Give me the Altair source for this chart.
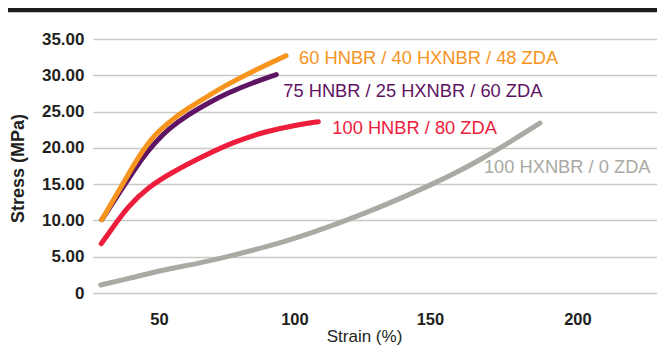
import altair as alt
import pandas as pd

# Series data: strain (%) and stress (MPa)
orange_name = "60 HNBR / 40 HXNBR / 48 ZDA"
orange_strain = [28.9, 33.8, 38.7, 43.6, 47.9, 53.4, 60.8, 68.8, 75.0, 84.8, 96.9]
orange_stress = [10.1, 13.2, 16.4, 19.4, 21.6, 23.5, 25.5, 27.3, 28.7, 30.6, 32.7]

purple_name = "75 HNBR / 25 HXNBR / 60 ZDA"
purple_strain = [28.9, 33.8, 38.7, 43.6, 48.5, 53.4, 60.8, 68.8, 75.0, 84.8, 93.3]
purple_stress = [10.1, 12.9, 15.7, 18.5, 20.7, 22.6, 24.6, 26.3, 27.5, 29.0, 30.1]

red_name = "100 HNBR / 80 ZDA"
red_strain = [28.7, 32.5, 38.7, 46.1, 54.7, 66.0, 77.4, 89.7, 100.0, 108.8]
red_stress = [6.8, 8.8, 12.0, 14.6, 16.6, 18.8, 20.8, 22.3, 23.1, 23.6]

gray_name = "100 HXNBR / 0 ZDA"
gray_strain = [28.5, 40.0, 50.4, 65.0, 77.4, 90.0, 102.0, 120.5, 131.5, 150.0, 168.5, 190.6]
gray_stress = [1.1, 2.1, 3.1, 4.1, 5.2, 6.4, 7.7, 10.2, 11.8, 14.8, 18.2, 23.4]

x_ticks = [50, 100, 150, 200]
y_ticks = [0, 5, 10, 15, 20, 25, 30, 35]

rows = []
for name, xs, ys in [(orange_name, orange_strain, orange_stress),
                     (purple_name, purple_strain, purple_stress),
                     (red_name, red_strain, red_stress),
                     (gray_name, gray_strain, gray_stress)]:
    for i, (s, v) in enumerate(zip(xs, ys)):
        rows.append({"series": name, "strain": s, "stress": v, "last": i == len(xs) - 1})
df = pd.DataFrame(rows)

FONT = "Liberation Sans"
INK = "#231f20"

x_enc = alt.X("strain:Q",
              scale=alt.Scale(domain=[25.65, 233.8], nice=False, zero=False),
              axis=alt.Axis(values=x_ticks, title="Strain (%)", grid=False, domain=False,
                            ticks=False, tickSize=0, labelPadding=18, labelOverlap=False,
                            labelFont=FONT, labelFontSize=16.5, labelFontWeight="bold",
                            labelColor=INK,
                            labelOffset={"condition": {"test": "datum.value == 200", "value": 12}, "value": 0},
                            titleFont=FONT, titleFontSize=17, titleFontWeight="normal",
                            titleColor=INK, titleX=271, titleY=43, titleAlign="center",
                            titleBaseline="middle"))
y_enc = alt.Y("stress:Q",
              scale=alt.Scale(domain=[0, 35], nice=False),
              axis=alt.Axis(values=y_ticks, title="Stress (MPa)", grid=True,
                            gridColor="#c8c8c4", gridWidth=1.5, domain=False,
                            ticks=False, tickSize=0, labelPadding=9, labelOverlap=False,
                            labelExpr="datum.value == 0 ? '0' : format(datum.value, '.2f')",
                            labelFont=FONT, labelFontSize=17, labelFontWeight="bold",
                            labelColor=INK,
                            titleFont=FONT, titleFontSize=18, titleFontWeight="bold",
                            titleColor=INK, titleX=-75, titleY=129, titleAlign="center",
                            titleBaseline="middle", titleAngle=-90))

base = alt.Chart(df)

series_style = [
    (gray_name, "#a9aaa3", -56, 45),
    (red_name, "#ee1d3c", 14, 7),
    (purple_name, "#5e1463", 7, 17),
    (orange_name, "#f7941e", 13, 3),
]

layers = []
for name, color, dx, dy in series_style:
    layers.append(
        base.transform_filter(alt.datum.series == name)
        .mark_line(color=color, strokeWidth=5, strokeCap="round", interpolate="basis")
        .encode(x=x_enc, y=y_enc)
    )
for name, color, dx, dy in series_style:
    layers.append(
        base.transform_filter((alt.datum.series == name) & alt.datum.last)
        .mark_text(color=color, font=FONT, fontSize=18.3, align="left", baseline="middle",
                   dx=dx, dy=dy)
        .encode(x=x_enc, y=y_enc, text="series:N")
    )

top_bar = alt.Chart(pd.DataFrame({"a": [0]})).mark_rule(
    color="#1e1e1e", strokeWidth=4.5, clip=False
).encode(x=alt.value(-85), x2=alt.value(564), y=alt.value(-29))
layers.append(top_bar)

chart = alt.layer(*layers).properties(
    width=564, height=254,
    autosize=alt.AutoSizeParams(type="none"),
    padding={"left": 85, "top": 31, "right": 0, "bottom": 55},
    background="white",
).configure_view(stroke=None)

chart.save("out.html", embed_options={"renderer": "svg", "actions": False})
